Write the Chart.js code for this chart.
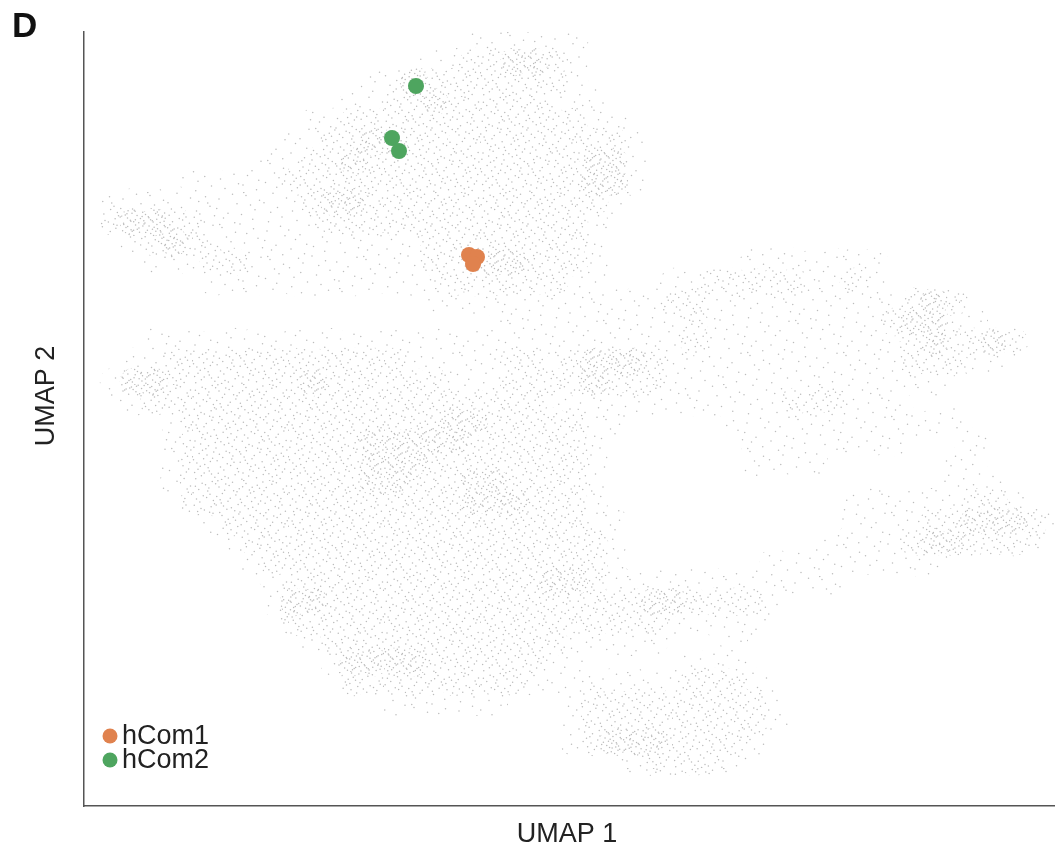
<!DOCTYPE html>
<html>
<head>
<meta charset="utf-8">
<script src="https://cdn.jsdelivr.net/npm/chart.js@4.4.0/dist/chart.umd.min.js"></script>
<style>
  html, body { margin: 0; padding: 0; background: #fff; }
  #wrap { position: relative; width: 1055px; height: 852px; }
</style>
</head>
<body>
<div id="wrap"><canvas id="umap"></canvas></div>
<script>
// axis spans of the embedding (one unit = one background cell)
const umap1Range = [0, 48.55];
const umap2Range = [0, 38.7];

// background cells, top row first, one char per cell
// '.' empty, '1' sparse, '2' medium, '3' dense  (spaces are only for counting)
const cellOriginX = 0.5;
const cellOriginY = 38.2;
const cellStep = 1;
const densityRows = [
  ".......... .........1 11111..... .......... .........",
  ".......... .......112 23321..... .......... .........",
  ".......... ....113222 22221..... .......... .........",
  ".......... ...1122322 222111.... .......... .........",
  ".......... .112222222 2222211... .......... .........",
  ".......... 1122332212 22222221.. .......... .........",
  ".........1 1223222222 22222331.. .......... .........",
  ".....11111 2222222222 22222331.. .......... .........",
  ".111111111 1233222222 2222221... .......... .........",
  ".233221111 1122222222 222221.... .......... .........",
  "..12321111 1111111222 222221.... .......... .........",
  "...1112211 1111111222 332221.... ...1111111 .........",
  "......1111 1111111122 222211...1 1222221121 .........",
  ".......... .......111 1111111112 2111111111 1232.....",
  ".......... .......... .111111111 2111111111 23311....",
  "...1111111 1111111111 1111111111 2111111111 1232232..",
  "..11222222 2222221111 1221233321 1111111111 122211...",
  ".133222222 2322222211 1222232221 1111111111 111......",
  "..12222222 2222222222 2221111111 1111122211 1........",
  "....122222 2222222233 2222211... ..11111111 1111.....",
  "....122222 2222333332 222221.... ...1111111 1...1....",
  "....122222 2222333222 222221.... ...1111... ...11....",
  "....122222 2222332223 322221.... .......... ...111...",
  ".....22222 2222222223 332221.... ........11 1111221..",
  "......1222 2222222222 2222211... ........11 112233321",
  ".......122 2222222222 2222221... .......111 12332221.",
  "........12 2222222222 2222221... ....111111 111......",
  ".........1 2222222222 2223321111 11111111.. .........",
  ".........1 3322222222 2222222233 22221..... .........",
  ".......... 2222222222 2222222221 1111...... .........",
  ".......... .122222222 222211111. ..1....... .........",
  ".......... ..13333222 22211..... 111....... .........",
  ".......... ...2222222 2211111111 2221...... .........",
  ".......... .....11111 1...122222 22221..... .........",
  ".......... .......... ....122222 22221..... .........",
  ".......... .......... ....123332 2221...... .........",
  ".......... .......... .......122 221....... ........."
];
const densityLevels = ['1', '2', '3'];
const dotsPerTile = [84, 263, 560];

// highlighted cells
const hCom1 = [{x: 19.25, y: 27.55}, {x: 19.65, y: 27.45}, {x: 19.45, y: 27.1}];
const hCom2 = [{x: 16.6, y: 36.0}, {x: 15.4, y: 33.4}, {x: 15.75, y: 32.75}];
const legendLabels = ['hCom1', 'hCom2'];

function cellsAt(level) {
  const pts = [];
  densityRows.forEach((raw, r) => {
    const row = raw.replace(/ /g, '');
    for (let c = 0; c < row.length; c++) {
      if (row[c] === level) {
        pts.push({x: cellOriginX + c * cellStep, y: cellOriginY - r * cellStep});
      }
    }
  });
  return pts;
}

function halton(i, b) {
  let f = 1, r = 0;
  while (i > 0) {
    f /= b;
    r += f * (i % b);
    i = Math.floor(i / b);
  }
  return r;
}

// fine grey dot texture used to fill the background cloud
function stipple(count) {
  const size = 96;
  const cv = document.createElement('canvas');
  cv.width = size;
  cv.height = size;
  const g = cv.getContext('2d');
  g.fillStyle = '#fff';
  g.fillRect(0, 0, size, size);
  g.fillStyle = '#bcbcbc';
  for (let n = 1; n <= count; n++) {
    g.beginPath();
    g.arc(halton(n, 2) * size, halton(n, 3) * size, 0.75, 0, Math.PI * 2);
    g.fill();
  }
  return g.createPattern(cv, 'repeat');
}

const FONT = '"Liberation Sans", Arial, Helvetica, sans-serif';

const datasets = [
  {label: 'hCom1', data: hCom1, backgroundColor: '#e0824e', pointRadius: 8, borderWidth: 0, order: 0},
  {label: 'hCom2', data: hCom2, backgroundColor: '#4ea55f', pointRadius: 8, borderWidth: 0, order: 1}
];
densityLevels.forEach((lvl, i) => {
  datasets.push({
    label: 'cells ' + lvl,
    data: cellsAt(lvl),
    backgroundColor: stipple(dotsPerTile[i]),
    pointRadius: 14.2,
    borderWidth: 0,
    order: 10 - i
  });
});

// texts: panel letter, axis titles and the legend in the lower left corner
const panelText = {
  id: 'panelText',
  afterDraw(chart) {
    const ctx = chart.ctx;
    ctx.save();
    ctx.fillStyle = '#111';
    ctx.textAlign = 'left';
    ctx.textBaseline = 'alphabetic';
    ctx.font = 'bold 35px ' + FONT;
    ctx.fillText('D', 12, 37);

    ctx.fillStyle = '#222';
    ctx.font = '27px ' + FONT;
    ctx.textAlign = 'center';
    ctx.textBaseline = 'middle';
    ctx.fillText('UMAP 1', 567, 835);
    ctx.save();
    ctx.translate(47, 396);
    ctx.rotate(-Math.PI / 2);
    ctx.fillText('UMAP 2', 0, 0);
    ctx.restore();

    ctx.font = '27px ' + FONT;
    ctx.textAlign = 'left';
    ctx.textBaseline = 'middle';
    legendLabels.forEach((lab, i) => {
      const ds = chart.data.datasets.find(d => d.label === lab);
      const y = 736 + i * 24;
      ctx.fillStyle = ds.backgroundColor;
      ctx.beginPath();
      ctx.arc(110, y, 7.5, 0, Math.PI * 2);
      ctx.fill();
      ctx.fillStyle = '#222';
      ctx.fillText(lab, 122, y + 1);
    });
    ctx.restore();
  }
};

new Chart(document.getElementById('umap'), {
  type: 'scatter',
  data: {datasets: datasets},
  options: {
    responsive: true,
    maintainAspectRatio: false,
    animation: false,
    events: [],
    layout: {autoPadding: false, padding: {left: 84, top: 32, right: 0, bottom: 46}},
    plugins: {legend: {display: false}, tooltip: {enabled: false}},
    scales: {
      x: {
        min: umap1Range[0], max: umap1Range[1],
        ticks: {display: false},
        grid: {display: false},
        border: {display: true, color: '#555', width: 1.5},
        afterFit(s) { s.height = 0; }
      },
      y: {
        min: umap2Range[0], max: umap2Range[1],
        ticks: {display: false},
        grid: {display: false},
        border: {display: true, color: '#555', width: 1.5},
        afterFit(s) { s.width = 0; }
      }
    }
  },
  plugins: [panelText]
});
</script>
</body>
</html>
